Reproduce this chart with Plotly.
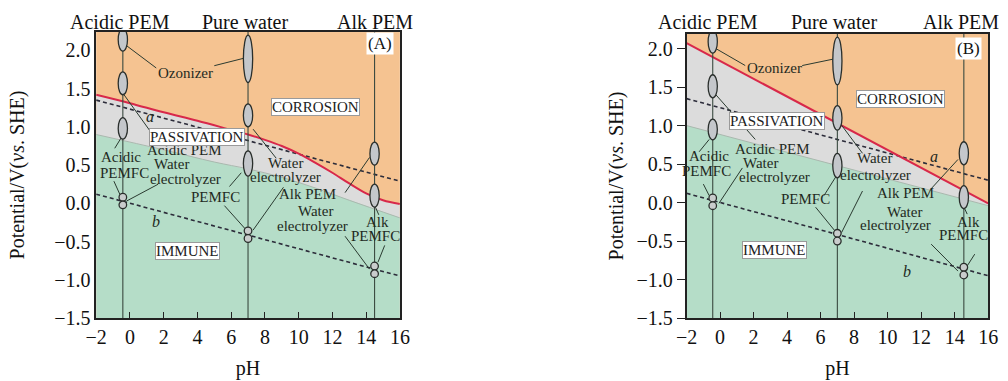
import plotly.graph_objects as go

# ---------------- data ----------------
PH_RANGE = [-2, 16]
A_V_RANGE = [-1.5, 2.24]
B_V_RANGE = [-1.5, 2.19]

# Panel A boundaries
a_red_ph = [-2, 0, 2, 4, 6, 7, 8, 9, 10, 11, 12, 13, 14, 15, 16]
a_red_v = [1.42, 1.31, 1.19, 1.08, 0.96, 0.90, 0.83, 0.75, 0.65, 0.53, 0.40, 0.26, 0.13, 0.04, -0.01]
a_green_ph = [-2, 2, 5, 7, 9, 11, 13, 16]
a_green_v = [0.90, 0.70, 0.54, 0.45, 0.34, 0.20, 0.04, -0.19]
# Panel B boundaries
b_red_ph = [-2, 16]
b_red_v = [2.07, -0.01]
b_green_ph = [-2, 16]
b_green_v = [1.00, -0.04]
# water stability lines a and b
line_a_ph = [-2, 16]
line_a_v = [1.35, 0.29]
line_b_ph = [-2, 16]
line_b_v = [0.12, -0.95]

# device columns
col_names = ["Acidic PEM", "Pure water", "Alk PEM"]
a_col_ph = [-0.42, 7.0, 14.5]
b_col_ph = [-0.44, 7.0, 14.55]
a_title_ph = [-0.6, 6.8, 14.5]
b_title_ph = [-0.7, 6.8, 14.4]

# ellipses: column index, centre V, height V
a_ell_col = [0, 0, 0, 1, 1, 1, 2, 2]
a_ell_v = [2.14, 1.57, 0.98, 1.89, 1.15, 0.52, 0.65, 0.10]
a_ell_h = [0.30, 0.30, 0.28, 0.62, 0.30, 0.33, 0.30, 0.30]
b_ell_col = [0, 0, 0, 1, 1, 1, 2, 2]
b_ell_v = [2.09, 1.51, 0.95, 1.84, 1.10, 0.48, 0.64, 0.07]
b_ell_h = [0.30, 0.30, 0.27, 0.62, 0.32, 0.32, 0.30, 0.30]
# small circle pairs
a_dot_col = [0, 0, 1, 1, 2, 2]
a_dot_v = [0.08, -0.02, -0.36, -0.46, -0.82, -0.92]
b_dot_col = [0, 0, 1, 1, 2, 2]
b_dot_v = [0.06, -0.04, -0.40, -0.50, -0.84, -0.94]

# labels
a_lab_text = ["Ozonizer", "Acidic PEM", "Water", "electrolyzer", "Acidic", "PEMFC",
              "Water", "electrolyzer", "PEMFC", "Alk PEM", "Water", "electrolyzer",
              "Alk", "PEMFC"]
a_lab_ph = [3.3, 3.25, 2.45, 3.3, -0.55, -0.3, 9.25, 9.25, 5.05, 10.5, 11.0, 10.8, 14.65, 14.55]
a_lab_v = [1.71, 0.70, 0.52, 0.32, 0.60, 0.40, 0.53, 0.35, 0.08, 0.12, -0.10, -0.29, -0.25, -0.43]
b_lab_text = a_lab_text
b_lab_ph = [3.26, 3.1, 2.4, 3.26, -0.65, -0.8, 9.2, 9.3, 5.1, 11.05, 11.0, 10.5, 14.85, 14.55]
b_lab_v = [1.75, 0.70, 0.51, 0.33, 0.60, 0.41, 0.58, 0.36, 0.05, 0.12, -0.12, -0.29, -0.25, -0.42]

# boxed region labels
box_text = ["CORROSION", "PASSIVATION", "IMMUNE"]
a_box_ph = [11.0, 4.0, 3.4]
a_box_v = [1.26, 0.87, -0.62]
b_box_ph = [10.75, 3.4, 3.26]
b_box_v = [1.34, 1.06, -0.61]
panel_tag = ["(A)", "(B)"]
tag_ph = [14.8, 14.8]
tag_v = [2.09, 2.00]
# italic line names
a_line_lab_ph = [1.2, 1.55]
a_line_lab_v = [1.13, -0.24]
b_line_lab_ph = [12.75, 11.15]
b_line_lab_v = [0.60, -0.89]

# leader lines (pH0, V0, pH1, V1)
a_lead = [(-0.25, 2.07, 1.56, 1.77), (5.0, 1.80, 6.8, 1.90), (-0.35, 1.42, 1.8, 0.76),
          (-0.2, 0.03, 1.67, 0.25), (-0.48, 0.87, -0.9, 0.72), (-0.95, 0.29, -0.54, 0.09),
          (7.3, 0.97, 8.67, 0.59), (7.3, -0.35, 9.1, 0.21), (6.6, 0.40, 5.9, 0.22),
          (5.6, -0.03, 6.9, -0.35), (12.75, 0.14, 14.2, 0.60), (12.75, -0.43, 14.2, -0.86),
          (14.55, -0.05, 14.75, -0.15), (15.1, -0.55, 14.7, -0.77)]
b_lead = [(-0.25, 2.0, 1.5, 1.78), (4.9, 1.78, 6.9, 1.87), (-0.25, 1.40, 2.1, 0.82),
          (-0.07, -0.01, 1.33, 0.45), (-0.65, 0.82, -1.25, 0.66), (-1.0, 0.24, -0.65, 0.09),
          (7.2, 1.02, 8.5, 0.64), (7.25, -0.39, 8.5, 0.15), (6.95, 0.35, 6.2, 0.09),
          (5.7, -0.06, 6.9, -0.38), (12.6, 0.18, 14.2, 0.56), (12.6, -0.54, 14.2, -0.89),
          (14.6, -0.08, 14.75, -0.15), (15.2, -0.67, 14.7, -0.84)]

# ---------------- styling ----------------
ORANGE = "#F5C391"
GREY = "#DCDCDC"
GREEN = "#B5DDC8"
RED = "#D8284A"
INK = "#1f2a22"
FONT = "Liberation Serif"
ELL_W = 0.55
DOT_W = 0.45
DOT_H = 0.10

fig = go.Figure()
shapes = []
annotations = []

panels = [
    dict(xa="x", ya="y", red=(a_red_ph, a_red_v), green=(a_green_ph, a_green_v),
         cols=a_col_ph, titles=a_title_ph, ell=(a_ell_col, a_ell_v, a_ell_h),
         dots=(a_dot_col, a_dot_v), lab=(a_lab_text, a_lab_ph, a_lab_v),
         box=(a_box_ph, a_box_v), tag=0, ll=(a_line_lab_ph, a_line_lab_v),
         lead=a_lead, vr=A_V_RANGE),
    dict(xa="x2", ya="y2", red=(b_red_ph, b_red_v), green=(b_green_ph, b_green_v),
         cols=b_col_ph, titles=b_title_ph, ell=(b_ell_col, b_ell_v, b_ell_h),
         dots=(b_dot_col, b_dot_v), lab=(b_lab_text, b_lab_ph, b_lab_v),
         box=(b_box_ph, b_box_v), tag=1, ll=(b_line_lab_ph, b_line_lab_v),
         lead=b_lead, vr=B_V_RANGE),
]

for p in panels:
    xa, ya = p["xa"], p["ya"]
    lo = p["vr"][0]
    rph, rv = p["red"]
    gph, gv = p["green"]
    fig.add_trace(go.Scatter(x=list(rph) + [rph[-1], rph[0]], y=list(rv) + [lo, lo],
                             fill="toself", fillcolor=GREY, line=dict(width=0),
                             mode="lines", hoverinfo="skip", showlegend=False,
                             xaxis=xa, yaxis=ya))
    fig.add_trace(go.Scatter(x=list(gph) + [gph[-1], gph[0]], y=list(gv) + [lo, lo],
                             fill="toself", fillcolor=GREEN, line=dict(width=0),
                             mode="lines", hoverinfo="skip", showlegend=False,
                             xaxis=xa, yaxis=ya))
    fig.add_trace(go.Scatter(x=gph, y=gv, mode="lines", line=dict(color="#a9b8ae", width=1, shape="spline"),
                             hoverinfo="skip", showlegend=False, xaxis=xa, yaxis=ya))
    fig.add_trace(go.Scatter(x=line_a_ph, y=line_a_v, mode="lines",
                             line=dict(color="#2c2c3a", width=1.6, dash="4px,3px"),
                             hoverinfo="skip", showlegend=False, xaxis=xa, yaxis=ya))
    fig.add_trace(go.Scatter(x=line_b_ph, y=line_b_v, mode="lines",
                             line=dict(color="#2c2c3a", width=1.6, dash="4px,3px"),
                             hoverinfo="skip", showlegend=False, xaxis=xa, yaxis=ya))
    fig.add_trace(go.Scatter(x=rph, y=rv, mode="lines", line=dict(color=RED, width=2, shape="spline"),
                             hoverinfo="skip", showlegend=False, xaxis=xa, yaxis=ya))

    for c in p["cols"]:
        shapes.append(dict(type="line", xref=xa, yref=ya, x0=c, x1=c, y0=p["vr"][0],
                           y1=p["vr"][1], line=dict(color="#3a4a40", width=1.1)))
    for (x0, y0, x1, y1) in p["lead"]:
        shapes.append(dict(type="line", xref=xa, yref=ya, x0=x0, y0=y0, x1=x1, y1=y1,
                           line=dict(color="#2a3a30", width=1)))
    ec, ev, eh = p["ell"]
    for ci, v, h in zip(ec, ev, eh):
        c = p["cols"][ci]
        shapes.append(dict(type="circle", xref=xa, yref=ya, x0=c - ELL_W / 2, x1=c + ELL_W / 2,
                           y0=v - h / 2, y1=v + h / 2, fillcolor="#C4C7CB",
                           line=dict(color="#2a2f2c", width=1.3)))
    dc, dv = p["dots"]
    for ci, v in zip(dc, dv):
        c = p["cols"][ci]
        shapes.append(dict(type="circle", xref=xa, yref=ya, x0=c - DOT_W / 2, x1=c + DOT_W / 2,
                           y0=v - DOT_H / 2, y1=v + DOT_H / 2, fillcolor="#C9CCCC",
                           line=dict(color="#2a2f2c", width=1.3)))

    for name, tph in zip(col_names, p["titles"]):
        annotations.append(dict(text=name, x=tph, xref=xa, y=1 - 23 / 381, yref="paper",
                                yanchor="middle", showarrow=False,
                                font=dict(family=FONT, size=20, color="#111")))
    lt, lph, lv = p["lab"]
    for t, x, y in zip(lt, lph, lv):
        annotations.append(dict(text=t, x=x, y=y, xref=xa, yref=ya, showarrow=False,
                                font=dict(family=FONT, size=15, color=INK)))
    bph, bv = p["box"]
    for t, x, y in zip(box_text, bph, bv):
        annotations.append(dict(text=t, x=x, y=y, xref=xa, yref=ya, showarrow=False,
                                bgcolor="white", bordercolor="#9a9a9a", borderwidth=1,
                                borderpad=0, font=dict(family=FONT, size=15, color="#222")))
    k = p["tag"]
    annotations.append(dict(text=panel_tag[k], x=tag_ph[k], y=tag_v[k], xref=xa, yref=ya,
                            showarrow=False, bgcolor="white", borderpad=1,
                            font=dict(family=FONT, size=17, color="#111")))
    llph, llv = p["ll"]
    for t, x, y in zip(["a", "b"], llph, llv):
        annotations.append(dict(text="<i>" + t + "</i>", x=x, y=y, xref=xa, yref=ya,
                                showarrow=False, font=dict(family=FONT, size=16, color=INK)))

axis_common = dict(showline=True, linecolor="#222", linewidth=1.5, mirror=True,
                   showgrid=False, zeroline=False,
                   tickfont=dict(family=FONT, size=20, color="#111"))
xt_vals = list(range(-2, 17, 2))
xt_text = ["\u22122"] + [str(v) for v in range(0, 17, 2)]
yt_vals = [-1.5, -1.0, -0.5, 0.0, 0.5, 1.0, 1.5, 2.0]
yt_text = ["\u22121.5", "\u22121.0", "\u22120.5", "0.0", "0.5", "1.0", "1.5", "2.0"]
title_font = dict(family=FONT, size=20, color="#111")

fig.update_layout(
    width=1008, height=381,
    margin=dict(l=0, r=0, t=0, b=0),
    paper_bgcolor="white", plot_bgcolor=ORANGE,
    showlegend=False,
    shapes=shapes, annotations=annotations,
    xaxis=dict(domain=[0.0863, 0.3940], anchor="y", range=PH_RANGE, tickvals=xt_vals,
               ticktext=xt_text, ticks="inside", ticklen=6, tickcolor="#222",
               title=dict(text="pH", font=title_font, standoff=14), **axis_common),
    yaxis=dict(domain=[0.1404, 0.9134], anchor="x", range=A_V_RANGE,
               tickvals=yt_vals, ticktext=yt_text, ticks="",
               title=dict(text="Potential/V(<i>vs</i>. SHE)", font=title_font, standoff=24),
               **axis_common),
    xaxis2=dict(domain=[0.6845, 0.9900], anchor="y2", range=PH_RANGE, tickvals=xt_vals,
                ticktext=xt_text, ticks="inside", ticklen=6, tickcolor="#222",
                title=dict(text="pH", font=title_font, standoff=14), **axis_common),
    yaxis2=dict(domain=[0.1404, 0.9082], anchor="x2", range=B_V_RANGE,
                tickvals=yt_vals, ticktext=yt_text, ticks="outside", ticklen=8, tickcolor="#222",
                title=dict(text="Potential/V(<i>vs</i>. SHE)", font=title_font, standoff=8),
                **axis_common),
)

fig.write_html("out.html")
